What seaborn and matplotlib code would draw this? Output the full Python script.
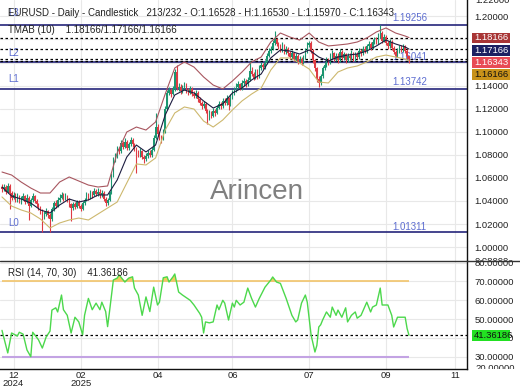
import numpy as np
import pandas as pd
import matplotlib
matplotlib.use("Agg")
import matplotlib.pyplot as plt
import seaborn as sns
from matplotlib.patches import Rectangle
from matplotlib.lines import Line2D
from matplotlib.transforms import Bbox
from matplotlib.ticker import FuncFormatter

# ---------------- data ----------------
open_first = 1.0520
close = [
    1.0500, 1.0520, 1.0480, 1.0530, 1.0470, 1.0430, 1.0450, 1.0410, 1.0430, 1.0400,
    1.0420, 1.0440, 1.0390, 1.0430, 1.0360, 1.0410, 1.0440, 1.0400, 1.0370, 1.0340,
    1.0310, 1.0260, 1.0290, 1.0310, 1.0280, 1.0240, 1.0330, 1.0380, 1.0360, 1.0410,
    1.0430, 1.0450, 1.0420, 1.0440, 1.0410, 1.0370, 1.0340, 1.0370, 1.0350, 1.0390,
    1.0360, 1.0330, 1.0380, 1.0410, 1.0450, 1.0430, 1.0470, 1.0450, 1.0490, 1.0460,
    1.0480, 1.0450, 1.0470, 1.0420, 1.0380, 1.0410, 1.0470, 1.0620, 1.0760, 1.0790,
    1.0850, 1.0830, 1.0900, 1.0870, 1.0910, 1.0860, 1.0890, 1.0930, 1.0890, 1.0850,
    1.0820, 1.0800, 1.0830, 1.0780, 1.0760, 1.0790, 1.0820, 1.0800, 1.0840, 1.0950,
    1.1040, 1.0980, 1.0950, 1.0940, 1.1000, 1.1200, 1.1340, 1.1360, 1.1330, 1.1370,
    1.1520, 1.1380, 1.1390, 1.1350, 1.1380, 1.1410, 1.1360, 1.1340, 1.1370, 1.1330,
    1.1310, 1.1340, 1.1280, 1.1250, 1.1220, 1.1240, 1.1180, 1.1120, 1.1160, 1.1140,
    1.1180, 1.1160, 1.1210, 1.1240, 1.1220, 1.1270, 1.1250, 1.1290, 1.1230, 1.1300,
    1.1340, 1.1360, 1.1390, 1.1410, 1.1380, 1.1420, 1.1440, 1.1410, 1.1450, 1.1530,
    1.1500, 1.1470, 1.1520, 1.1480, 1.1550, 1.1580, 1.1560, 1.1600, 1.1660, 1.1700,
    1.1720, 1.1770, 1.1800, 1.1760, 1.1740, 1.1710, 1.1750, 1.1690, 1.1720, 1.1680,
    1.1650, 1.1680, 1.1630, 1.1660, 1.1610, 1.1630, 1.1600, 1.1640, 1.1700, 1.1750,
    1.1770, 1.1700, 1.1620, 1.1550, 1.1460, 1.1420, 1.1480, 1.1550, 1.1580, 1.1620,
    1.1600, 1.1650, 1.1680, 1.1630, 1.1660, 1.1620, 1.1690, 1.1640, 1.1670, 1.1620,
    1.1660, 1.1640, 1.1680, 1.1630, 1.1670, 1.1650, 1.1700, 1.1680, 1.1720, 1.1700,
    1.1740, 1.1760, 1.1730, 1.1780, 1.1800, 1.1780, 1.1830, 1.1860, 1.1790, 1.1820,
    1.1770, 1.1740, 1.1780, 1.1730, 1.1690, 1.1660, 1.1700, 1.1730, 1.1710, 1.1740,
    1.1700, 1.16528, 1.16343]
high = [
    1.0545, 1.0550, 1.0535, 1.0560, 1.0545, 1.0490, 1.0480, 1.0470, 1.0465, 1.0450,
    1.0445, 1.0470, 1.0455, 1.0460, 1.0445, 1.0430, 1.0470, 1.0455, 1.0420, 1.0385,
    1.0360, 1.0330, 1.0315, 1.0340, 1.0325, 1.0300, 1.0350, 1.0400, 1.0405, 1.0435,
    1.0460, 1.0480, 1.0470, 1.0465, 1.0455, 1.0425, 1.0385, 1.0395, 1.0390, 1.0410,
    1.0405, 1.0375, 1.0400, 1.0430, 1.0475, 1.0470, 1.0495, 1.0490, 1.0515, 1.0505,
    1.0510, 1.0500, 1.0495, 1.0485, 1.0435, 1.0430, 1.0490, 1.0640, 1.0780, 1.0820,
    1.0880, 1.0870, 1.0930, 1.0920, 1.0945, 1.0925, 1.0915, 1.0955, 1.0945, 1.0905,
    1.0865, 1.0840, 1.0855, 1.0845, 1.0800, 1.0815, 1.0845, 1.0840, 1.0865, 1.0975,
    1.1160, 1.1065, 1.1000, 1.0975, 1.1020, 1.1225, 1.1365, 1.1390, 1.1380, 1.1395,
    1.1545, 1.1580, 1.1420, 1.1410, 1.1405, 1.1435, 1.1425, 1.1380, 1.1395, 1.1385,
    1.1350, 1.1365, 1.1355, 1.1300, 1.1270, 1.1265, 1.1255, 1.1195, 1.1185, 1.1180,
    1.1205, 1.1200, 1.1235, 1.1265, 1.1260, 1.1295, 1.1290, 1.1315, 1.1305, 1.1325,
    1.1365, 1.1385, 1.1420, 1.1440, 1.1425, 1.1445, 1.1470, 1.1460, 1.1475, 1.1615,
    1.1560, 1.1520, 1.1545, 1.1540, 1.1575, 1.1605, 1.1600, 1.1625, 1.1685, 1.1725,
    1.1745, 1.1795, 1.1870, 1.1815, 1.1780, 1.1760, 1.1775, 1.1765, 1.1745, 1.1735,
    1.1700, 1.1705, 1.1695, 1.1685, 1.1675, 1.1655, 1.1645, 1.1665, 1.1725, 1.1775,
    1.1790, 1.1785, 1.1715, 1.1635, 1.1565, 1.1480, 1.1500, 1.1570, 1.1605, 1.1645,
    1.1640, 1.1680, 1.1705, 1.1695, 1.1685, 1.1680, 1.1715, 1.1705, 1.1695, 1.1685,
    1.1685, 1.1680, 1.1705, 1.1695, 1.1695, 1.1690, 1.1725, 1.1720, 1.1745, 1.1740,
    1.1765, 1.1785, 1.1775, 1.1805, 1.1825, 1.1820, 1.1855, 1.1926, 1.1875, 1.1845,
    1.1835, 1.1790, 1.1805, 1.1795, 1.1745, 1.1710, 1.1725, 1.1755, 1.1750, 1.1765,
    1.1755, 1.1715, 1.16530]
low = [
    1.0480, 1.0485, 1.0460, 1.0470, 1.0330, 1.0410, 1.0415, 1.0390, 1.0395, 1.0380,
    1.0375, 1.0405, 1.0370, 1.0380, 1.0235, 1.0345, 1.0395, 1.0385, 1.0350, 1.0320,
    1.0290, 1.0135, 1.0240, 1.0270, 1.0255, 1.0135, 1.0225, 1.0315, 1.0340, 1.0350,
    1.0395, 1.0415, 1.0400, 1.0405, 1.0390, 1.0350, 1.0230, 1.0325, 1.0330, 1.0340,
    1.0340, 1.0315, 1.0320, 1.0365, 1.0400, 1.0410, 1.0420, 1.0430, 1.0440, 1.0440,
    1.0445, 1.0430, 1.0435, 1.0400, 1.0360, 1.0365, 1.0400, 1.0460, 1.0610, 1.0740,
    1.0775, 1.0810, 1.0815, 1.0850, 1.0855, 1.0840, 1.0845, 1.0875, 1.0870, 1.0830,
    1.0640, 1.0780, 1.0785, 1.0760, 1.0730, 1.0745, 1.0775, 1.0780, 1.0785, 1.0830,
    1.0935, 1.0960, 1.0930, 1.0900, 1.0925, 1.0990, 1.1185, 1.1320, 1.1305, 1.1315,
    1.1355, 1.1360, 1.1355, 1.1330, 1.1335, 1.1365, 1.1340, 1.1320, 1.1325, 1.1310,
    1.1290, 1.1295, 1.1260, 1.1230, 1.1200, 1.1205, 1.1160, 1.1070, 1.1105, 1.1120,
    1.1125, 1.1140, 1.1150, 1.1195, 1.1200, 1.1210, 1.1230, 1.1235, 1.1185, 1.1220,
    1.1285, 1.1320, 1.1345, 1.1370, 1.1360, 1.1365, 1.1400, 1.1390, 1.1395, 1.1440,
    1.1480, 1.1450, 1.1455, 1.1460, 1.1470, 1.1535, 1.1540, 1.1545, 1.1590, 1.1645,
    1.1680, 1.1705, 1.1755, 1.1740, 1.1720, 1.1690, 1.1695, 1.1670, 1.1675, 1.1660,
    1.1630, 1.1635, 1.1610, 1.1615, 1.1590, 1.1595, 1.1580, 1.1585, 1.1630, 1.1685,
    1.1735, 1.1680, 1.1600, 1.1530, 1.1430, 1.1390, 1.1405, 1.1465, 1.1535, 1.1565,
    1.1580, 1.1585, 1.1635, 1.1610, 1.1615, 1.1600, 1.1605, 1.1620, 1.1625, 1.1600,
    1.1605, 1.1620, 1.1625, 1.1610, 1.1615, 1.1630, 1.1635, 1.1660, 1.1665, 1.1680,
    1.1685, 1.1720, 1.1710, 1.1715, 1.1760, 1.1760, 1.1765, 1.1815, 1.1770, 1.1775,
    1.1750, 1.1720, 1.1725, 1.1710, 1.1670, 1.1645, 1.1645, 1.1685, 1.1690, 1.1695,
    1.1680, 1.1635, 1.15970]

band_idx = list(range(0, 211, 5)) + [212]
band_upper = [1.0651, 1.0625, 1.0564, 1.0512, 1.0469, 1.0469, 1.0564, 1.0608, 1.0573, 1.0538,
              1.0521, 1.0530, 1.0816, 1.0998, 1.1041, 1.1015, 1.1085, 1.1327, 1.1553, 1.1605,
              1.1561, 1.1475, 1.1405, 1.1371, 1.1440, 1.1518, 1.1605, 1.1648, 1.1778, 1.1856,
              1.1821, 1.1795, 1.1856, 1.1778, 1.1744, 1.1752, 1.1761, 1.1778, 1.1813, 1.1865,
              1.1900, 1.1856, 1.1830, 1.18166]
band_mid = [1.0521, 1.0443, 1.0417, 1.0382, 1.0322, 1.0296, 1.0365, 1.0417, 1.0391, 1.0409,
            1.0452, 1.0452, 1.0582, 1.0781, 1.0885, 1.0825, 1.0885, 1.1145, 1.1319, 1.1362,
            1.1336, 1.1267, 1.1206, 1.1241, 1.1336, 1.1379, 1.1449, 1.1501, 1.1640, 1.1709,
            1.1700, 1.1674, 1.1709, 1.1648, 1.1613, 1.1648, 1.1665, 1.1674, 1.1700, 1.1744,
            1.1795, 1.1761, 1.1735, 1.17166]
band_lower = [1.0435, 1.0356, 1.0322, 1.0296, 1.0244, 1.0166, 1.0209, 1.0235, 1.0252, 1.0235,
              1.0287, 1.0339, 1.0391, 1.0556, 1.0721, 1.0712, 1.0773, 1.1015, 1.1163, 1.1215,
              1.1197, 1.1093, 1.1041, 1.1102, 1.1189, 1.1267, 1.1327, 1.1379, 1.1535, 1.1640,
              1.1640, 1.1596, 1.1544, 1.1431, 1.1423, 1.1518, 1.1553, 1.1570, 1.1605, 1.1648,
              1.1665, 1.1648, 1.1631, 1.16166]

rsi_idx = [0, 3, 5, 8, 9, 11, 13, 15, 16, 19, 21, 23, 25, 26, 28, 29, 31, 32, 34, 36,
           38, 40, 42, 43, 45, 47, 49, 51, 52, 54, 55, 56, 58, 60, 61, 64, 66, 68, 69, 71,
           73, 75, 77, 79, 81, 82, 84, 86, 87, 89, 90, 92, 94, 98, 100, 103, 104, 105, 106, 108,
           110, 112, 113, 115, 116, 118, 120, 121, 122, 124, 126, 128, 130, 132, 134, 137, 140, 141, 143, 145,
           148, 151, 153, 154, 156, 158, 159, 161, 163, 164, 165, 166, 167, 169, 171, 172, 174, 175, 177, 179,
           180, 182, 184, 185, 187, 190, 192, 193, 195, 197, 198, 201, 203, 204, 206, 208, 210, 211, 212]
rsi_val = [44, 32, 42.6, 41, 43, 42, 33.6, 30, 43, 39, 34.6, 40.5, 43.6, 54.8, 56, 53.8, 62.8, 55, 52, 42.6,
           51, 48.5, 41.7, 52, 61, 55, 58.5, 55, 59, 54, 46, 54, 70.8, 71.8, 73.5, 69.7, 71.8, 72.5, 66.5, 62.8,
           52, 61.8, 54, 67, 57.5, 59, 72, 72.5, 69.7, 72.4, 74, 64.4, 62.8, 60, 57.5, 53, 51, 42.6, 48.5, 48,
           48.5, 57.5, 55, 60, 58.5, 49.5, 58.5, 56.4, 60, 57.5, 59, 66.5, 61, 56.4, 61, 67, 70.8, 72.4, 69.7, 69,
           61, 52, 48.5, 49.5, 58.5, 62.8, 59, 41.5, 32.5, 36, 45.8, 47, 49.5, 53.8, 51, 56.4, 52, 54.8, 51, 56,
           48.5, 52, 53.8, 50.5, 52, 59, 53.8, 56.4, 57.5, 66.5, 57.5, 57.5, 52, 45.8, 51, 51, 51, 45, 41.36186]

levels = {"L3": 1.19256, "L2": 1.16041, "L1": 1.13742, "L0": 1.01311}
dashed_levels = [1.18166, 1.17166, 1.16343, 1.16166]
tick_pos = [6, 41, 81, 120, 160, 200, 236]
tick_lab = ["12\n2024", "02\n2025", "04", "06", "07", "09", "11"]

# ---------------- style ----------------
sns.set_style("white")
plt.rcParams['font.family'] = ['Liberation Sans', 'DejaVu Sans']
FS = 6.8
UP, DOWN = '#1c9670', '#de3b44'
LVL = '#25257a'
LBL = '#5d6dd0'

W, H = 520, 390
fig = plt.figure(figsize=(W / 100, H / 100), dpi=100)
def fx(x): return x / W
def fy(y): return 1 - y / H

ax = fig.add_axes([0, fy(261), 467 / W, 261 / H])
ax2 = fig.add_axes([0, fy(369), 467 / W, 108 / H])

# ---------------- candles ----------------
c = np.array(close)
o = np.array([open_first] + close[:-1])
hi = np.array(high)
lo = np.array(low)
idx = np.arange(len(c))
cols = np.where(c >= o, UP, DOWN)
ax.vlines(idx, lo, hi, colors=cols, lw=0.8, zorder=3)
ax.bar(idx, np.maximum(np.abs(c - o), 0.0005), bottom=np.minimum(o, c),
       width=0.72, color=cols, linewidth=0, zorder=4)

# bands
sns.lineplot(x=band_idx, y=band_upper, ax=ax, color='#a8565f', lw=0.8, estimator=None, zorder=5)
sns.lineplot(x=band_idx, y=band_mid, ax=ax, color='#1c1c40', lw=0.8, estimator=None, zorder=5)
sns.lineplot(x=band_idx, y=band_lower, ax=ax, color='#cdb86e', lw=0.8, estimator=None, zorder=5)

for name, v in levels.items():
    ax.axhline(v, color=LVL, lw=1.2, zorder=2.5)
for v in dashed_levels:
    ax.axhline(v, color='black', lw=0.9, ls=(0, (2, 2)), zorder=2.6)

ax.set_yticks(np.round(np.arange(0.98, 1.2201, 0.02), 2))
ax.set_xticks(tick_pos)
ax.set_xlim(-1.04, 242.2)
ax.set_ylim(0.98796, 1.21423)
ax.yaxis.tick_right()
ax.yaxis.set_major_formatter(FuncFormatter(lambda v, p: f"{v:.5f}"))
ax.tick_params(axis='y', length=0, pad=5.5, labelsize=FS, labelcolor='#222222')
ax.tick_params(axis='x', length=0, labelbottom=False)
ax.grid(True, color='#e8e8e8', lw=0.8)
ax.set_axisbelow(True)
ax.set_xlabel('')
ax.set_ylabel('')
for s in ['left', 'top', 'bottom']:
    ax.spines[s].set_visible(False)
ax.spines['right'].set_color('#111111')
ax.spines['right'].set_linewidth(1.0)

# ---------------- RSI ----------------
ri = np.array(rsi_idx)
rv = np.array(rsi_val)
ax2.fill_between(ri, 70, rv, where=rv >= 70, interpolate=True, color='#f3cf5a', lw=0, zorder=2)
ax2.hlines(70, idx[0], idx[-1], color='#f2c46a', lw=1.2, zorder=2)
ax2.hlines(30, idx[0], idx[-1], color='#c3a3e3', lw=1.5, zorder=2)
ax2.axhline(rv[-1], color='black', lw=0.9, ls=(0, (2, 2)), zorder=2)
sns.lineplot(x=ri, y=rv, ax=ax2, color='#4cd84c', lw=1.0, estimator=None, zorder=3)
ax2.set_yticks([30, 40, 50, 60, 70, 80])
ax2.set_xticks(tick_pos)
ax2.set_xticklabels(tick_lab)
ax2.set_xlim(-1.04, 242.2)
ax2.set_ylim(23.46, 80.9)
ax2.yaxis.tick_right()
ax2.yaxis.set_major_formatter(FuncFormatter(lambda v, p: f"{v:.5f}"))
ax2.tick_params(axis='y', length=0, pad=5.5, labelsize=FS, labelcolor='#222222')
ax2.tick_params(axis='x', length=0, pad=1.5, labelsize=FS, labelcolor='#222222')
for t in ax2.get_xticklabels():
    t.set_linespacing(0.85)
ax2.grid(True, color='#e8e8e8', lw=0.8)
ax2.set_axisbelow(True)
ax2.set_xlabel('')
ax2.set_ylabel('')
for s in ['left', 'top']:
    ax2.spines[s].set_visible(False)
for s in ['right', 'bottom']:
    ax2.spines[s].set_color('#111111')
    ax2.spines[s].set_linewidth(1.0)

# separator line across the figure
fig.add_artist(Line2D([0, 1], [fy(261), fy(261)], transform=fig.transFigure, color='#333333', lw=1.0))

# ---------------- texts ----------------
ax.text(fx(257), fy(192), "Arincen", transform=fig.transFigure, fontsize=20,
        color='#808080', ha='center', va='center', zorder=1)

lvl_label_y = {"L3": 13, "L2": 53, "L1": 79, "L0": 223}
val_label_y = {"L3": 18, "L2": 57, "L1": 82, "L0": 227}
for name, v in levels.items():
    ax.text(fx(8), fy(lvl_label_y[name]), name, transform=fig.transFigure, fontsize=7,
            color=LBL, ha='left', va='center', zorder=2)
    ax.text(fx(392), fy(val_label_y[name]), f"{v:.5f}", transform=fig.transFigure, fontsize=7,
            color=LBL, ha='left', va='center', zorder=2)

fig.text(fx(8), fy(13), "EURUSD - Daily - Candlestick   213/232 - O:1.16528 - H:1.16530 - L:1.15970 - C:1.16343",
         fontsize=7, color='#222222', ha='left', va='center', zorder=10)
fig.text(fx(8), fy(30), "TMAB (10)    1.18166/1.17166/1.16166",
         fontsize=7, color='#222222', ha='left', va='center', zorder=10)
fig.text(fx(8), fy(273), f"RSI (14, 70, 30)    {rsi_val[-1]:.5f}",
         fontsize=7, color='#222222', ha='left', va='center', zorder=10)

# clipped edge labels
t = fig.text(fx(475), fy(0.5), "1.22000", fontsize=FS, color='#222222', ha='left', va='center')
t = fig.text(fx(475), fy(261.5), "0.98000", fontsize=FS, color='#222222', ha='left', va='center')
t.set_clip_box(Bbox.from_extents(0, 390 - 260, 520, 390))
t.set_clip_on(True)
t = fig.text(fx(475), fy(368.5), "20.00000", fontsize=FS, color='#222222', ha='left', va='center')
t.set_clip_box(Bbox.from_extents(0, 390 - 369, 520, 390))
t.set_clip_on(True)

# value boxes
def box(y0, y1, fc, txt, tc):
    fig.add_artist(Rectangle((fx(472), fy(y1)), (510 - 472) / W, (y1 - y0) / H,
                             transform=fig.transFigure, facecolor=fc, edgecolor='none', zorder=5))
    fig.text(fx(474), fy((y0 + y1) / 2), txt, color=tc, fontsize=FS, ha='left', va='center', zorder=6)

box(32.7, 43.3, '#a83535', f"{dashed_levels[0]:.5f}", 'white')
box(45.0, 55.6, '#1c2062', f"{dashed_levels[1]:.5f}", 'white')
box(57.3, 67.7, '#e84a55', f"{dashed_levels[2]:.5f}", 'white')
box(69.0, 79.6, '#c8921a', f"{dashed_levels[3]:.5f}", '#111111')
box(330.0, 341.0, '#22e022', f"{rsi_val[-1]:.5f}", '#111111')

fig.savefig("out.png", dpi=100)
